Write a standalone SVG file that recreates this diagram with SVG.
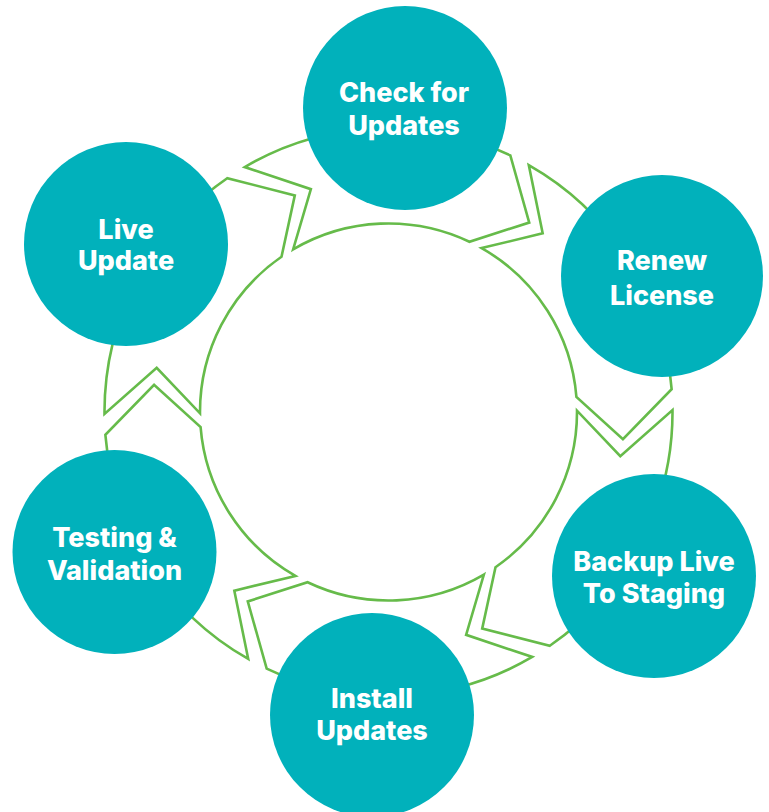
<svg xmlns="http://www.w3.org/2000/svg" xmlns:xlink="http://www.w3.org/1999/xlink" width="769" height="812" viewBox="0 0 769 812">
<style>
.seg{fill:none;stroke:#66bb4a;stroke-width:2.6;stroke-linejoin:miter}
.node circle{fill:#01b1bb}
.node text{fill:#ffffff;font-family:Inter,"Liberation Sans",Arial,sans-serif;font-weight:800;font-size:27px;text-anchor:middle}
</style>
<defs>
<path id="seg" d="M672.5,410.0 A284,284 0 0 1 549.8,645.8 L482.2,628.6 L495.5,567.2 A188.5,188.5 0 0 0 577.0,410.7 L620.3,456.2 Z"/>
</defs>
<rect width="769" height="812" fill="#ffffff"/>
<g id="connectors">
<use class="seg" href="#seg" xlink:href="#seg"/>
<use class="seg" href="#seg" xlink:href="#seg" transform="rotate(60 388.5 412)"/>
<use class="seg" href="#seg" xlink:href="#seg" transform="rotate(120 388.5 412)"/>
<use class="seg" href="#seg" xlink:href="#seg" transform="rotate(180 388.5 412)"/>
<use class="seg" href="#seg" xlink:href="#seg" transform="rotate(240 388.5 412)"/>
<use class="seg" href="#seg" xlink:href="#seg" transform="rotate(300 388.5 412)"/>
</g>
<g id="check" class="node">
<circle cx="405" cy="108" r="102"/>
<text x="404" y="102">Check for</text>
<text x="404" y="135">Updates</text>
</g>
<g id="renew" class="node">
<circle cx="662" cy="276" r="101"/>
<text x="662" y="270">Renew</text>
<text x="662" y="305">License</text>
</g>
<g id="backup" class="node">
<circle cx="654" cy="576" r="102"/>
<text x="654" y="571">Backup Live</text>
<text x="654" y="603">To Staging</text>
</g>
<g id="install" class="node">
<circle cx="372" cy="715" r="102"/>
<text x="372" y="708">Install</text>
<text x="372" y="740">Updates</text>
</g>
<g id="testing" class="node">
<circle cx="114.5" cy="552" r="102"/>
<text x="114.5" y="547">Testing &amp;</text>
<text x="114.5" y="580">Validation</text>
</g>
<g id="live" class="node">
<circle cx="126" cy="244" r="102"/>
<text x="126" y="239">Live</text>
<text x="126" y="270">Update</text>
</g>
</svg>
